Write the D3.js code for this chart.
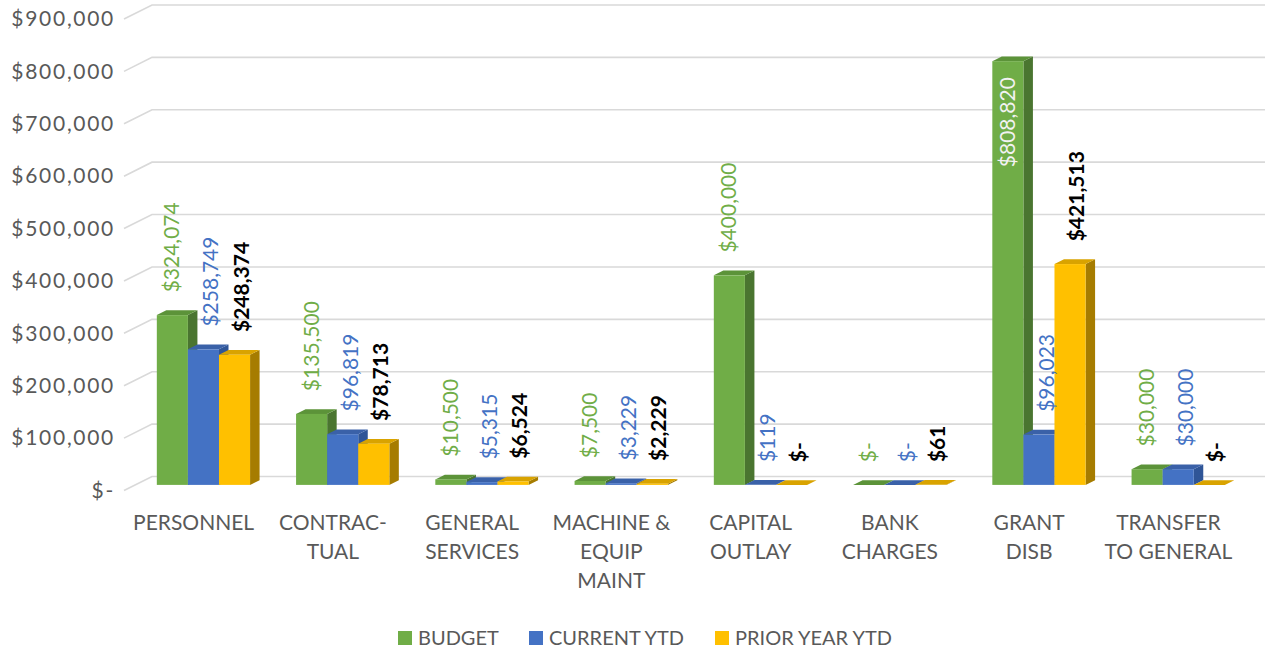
<!DOCTYPE html>
<html>
<head>
<meta charset="utf-8">
<script src="https://cdn.jsdelivr.net/npm/d3@7"></script>
<style>
  body { margin: 0; background: #fff; }
  text { font-family: Lato, 'Open Sans', sans-serif; }
</style>
</head>
<body>
<div id="chart"></div>
<script>
// Canvas
const width = 1265,
  height = 654

// Data
const categories = ['PERSONNEL', 'CONTRAC-|TUAL', 'GENERAL|SERVICES', 'MACHINE &|EQUIP|MAINT',
  'CAPITAL|OUTLAY', 'BANK|CHARGES', 'GRANT|DISB', 'TRANSFER|TO GENERAL']
const seriesNames = ['BUDGET', 'CURRENT YTD', 'PRIOR YEAR YTD']
const budget = [324074, 135500, 10500, 7500, 400000, 0, 808820, 30000]
const currentYtd = [258749, 96819, 5315, 3229, 119, 0, 96023, 30000]
const priorYtd = [248374, 78713, 6524, 2229, 0, 61, 421513, 0]
const yMax = 900000

const series = [budget, currentYtd, priorYtd]

// Look
const faces = [
  { front: '#70AD47', top: '#5C9339', side: '#4A7530', label: '#70AD47', weight: 'normal' },
  { front: '#4472C4', top: '#3A61A8', side: '#2F5597', label: '#4472C4', weight: 'normal' },
  { front: '#FFC000', top: '#D9A300', side: '#A67C00', label: '#000000', weight: 'bold' }
]
const depthX = 28, depthY = -14 // floor depth
const f1 = 0.4, f2 = 0.74 // bar front / back depth fraction
const labelShift = [0, 8, 7]

let svg = d3.select('#chart')
  .append('svg')
  .attr('width', width)
  .attr('height', height)

const x = d3.scaleBand()
  .domain(categories)
  .range([124, 1238])

const xs = d3.scaleBand()
  .domain(seriesNames)
  .range([0, x.bandwidth()])
  .paddingOuter(0.74)
  .align(0.47)

const y = d3.scaleLinear()
  .domain([0, yMax])
  .range([490.5, 19])

const money = (d) => d === 0 ? '$-' : '$' + d3.format(',')(d)

// gridlines: side wall diagonal + back wall
const grid = svg.append('g')
  .attr('stroke', '#D9D9D9')
  .attr('stroke-width', 1.6)
  .attr('fill', 'none')

grid.selectAll('path')
  .data(y.ticks(9))
  .enter()
  .append('path')
  .attr('d', (d) => {
    const y0 = y(d)
    return 'M' + x.range()[0] + ',' + y0 +
      'L' + (x.range()[0] + depthX) + ',' + (y0 + depthY) +
      'L' + width + ',' + (y0 + depthY)
  })

// y axis labels
const yAxis = d3.axisLeft(y)
  .ticks(9)
  .tickFormat(money)
  .tickSize(0)
  .tickPadding(0)

svg.append('g')
  .attr('transform', 'translate(115,0)')
  .call(yAxis)
  .call((g) => g.select('.domain').remove())
  .selectAll('text')
  .attr('fill', '#595959')
  .style('font-size', '21px')
  .style('letter-spacing', '1.7px')
  .style('font-family', 'Lato, sans-serif')

// bars
const bars = svg.append('g')
const pts = (arr) => arr.map((p) => p.join(',')).join(' ')

categories.forEach((c, i) => {
  seriesNames.forEach((s, k) => {
    const v = series[k][i]
    const x0 = x(c) + xs(s) + depthX * f1
    const x1 = x0 + xs.bandwidth()
    const yb = y(0) + depthY * f1
    const yt = y(v) + depthY * f1
    const ddx = depthX * (f2 - f1), ddy = depthY * (f2 - f1)
    const g = bars.append('g')
    g.append('polygon') // side
      .attr('points', pts([[x1, yt], [x1 + ddx, yt + ddy], [x1 + ddx, yb + ddy], [x1, yb]]))
      .attr('fill', faces[k].side)
    g.append('polygon') // top
      .attr('points', pts([[x0, yt], [x0 + ddx, yt + ddy], [x1 + ddx, yt + ddy], [x1, yt]]))
      .attr('fill', faces[k].top)
    g.append('rect') // front
      .attr('x', x0)
      .attr('y', yt)
      .attr('width', xs.bandwidth())
      .attr('height', yb - yt)
      .attr('fill', faces[k].front)
  })
})

// data labels, rotated
const labels = svg.append('g')
categories.forEach((c, i) => {
  seriesNames.forEach((s, k) => {
    const v = series[k][i]
    const cx = x(c) + xs(s) + depthX * f1 + xs.bandwidth() / 2 + labelShift[k]
    const topBack = y(v) + depthY * f2
    const inside = topBack < 100
    const ly = inside ? y(v) + depthY * f1 + 16 : topBack - 18
    labels.append('text')
      .attr('transform', 'translate(' + (cx + 7) + ',' + ly + ') rotate(-90)')
      .attr('text-anchor', inside ? 'end' : 'start')
      .attr('fill', inside ? '#F2F2F2' : faces[k].label)
      .style('font-weight', faces[k].weight)
      .style('font-size', '21px')
      .text(money(v))
  })
})

// category labels
const catG = svg.append('g')
catG.selectAll('text')
  .data(categories)
  .enter()
  .append('text')
  .attr('text-anchor', 'middle')
  .attr('fill', '#595959')
  .style('font-size', '21px')
  .attr('x', (d) => x(d) + x.bandwidth() / 2)
  .attr('y', 530)
  .each(function (d) {
    const t = d3.select(this)
    d.split('|').forEach((line, j) => {
      t.append('tspan')
        .attr('x', x(d) + x.bandwidth() / 2)
        .attr('y', 530 + j * 29)
        .text(line)
    })
  })

// legend
const legendX = [398, 529, 715]
const legend = svg.append('g')
seriesNames.forEach((s, k) => {
  legend.append('rect')
    .attr('x', legendX[k])
    .attr('y', 631)
    .attr('width', 14)
    .attr('height', 14)
    .attr('fill', faces[k].front)
  legend.append('text')
    .attr('x', legendX[k] + 20)
    .attr('y', 645)
    .attr('fill', '#595959')
    .style('font-size', '20px')
    .text(s)
})
</script>
</body>
</html>
